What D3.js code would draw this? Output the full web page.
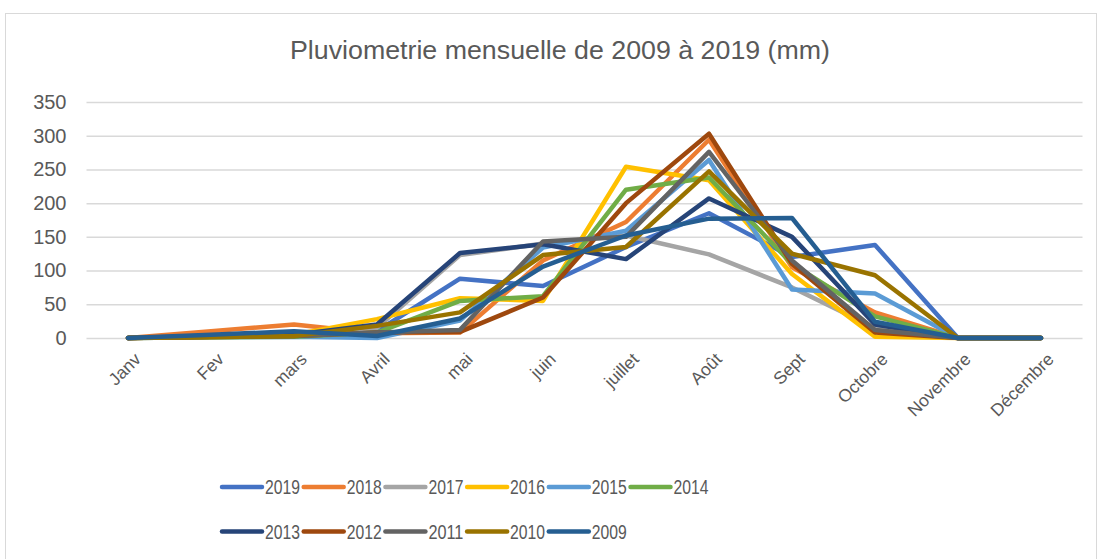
<!DOCTYPE html>
<html>
  <head>
    <meta charset="utf-8" />
    <title>Pluviometrie mensuelle</title>
    <script src="https://d3js.org/d3.v7.min.js"></script>
    <style>
      html, body {
        margin: 0;
        padding: 0;
        background-color: white;
      }
      svg text {
        font-family: "Liberation Sans", Arial, sans-serif;
        fill: #595959;
      }
    </style>
  </head>
  <body>
    <script>
      var w = 1101;
      var h = 559;

      // data (mm)
      var months = ["Janv", "Fev", "mars", "Avril", "mai", "juin", "juillet", "Août", "Sept", "Octobre", "Novembre", "Décembre"];
      var years = ["2019", "2018", "2017", "2016", "2015", "2014", "2013", "2012", "2011", "2010", "2009"];
      var colors = ["#4472C4", "#ED7D31", "#A5A5A5", "#FFC000", "#5B9BD5", "#70AD47", "#264478", "#9E480E", "#636363", "#997300", "#255E91"];

      var v2019 = [0, 3, 5, 10, 88, 77, 135, 185, 120, 138, 0, 0];
      var v2018 = [0, 10, 20, 7, 8, 115, 172, 294, 105, 38, 0, 0];
      var v2017 = [0, 2, 3, 15, 123, 140, 152, 124, 75, 15, 0, 0];
      var v2016 = [0, 2, 5, 28, 59, 55, 254, 234, 95, 2, 0, 0];
      var v2015 = [0, 1, 2, 0, 26, 134, 159, 264, 72, 66, 0, 0];
      var v2014 = [0, 1, 2, 8, 55, 62, 220, 238, 110, 32, 0, 0];
      var v2013 = [0, 3, 5, 20, 126, 139, 117, 207, 150, 20, 0, 0];
      var v2012 = [0, 2, 3, 8, 9, 60, 200, 303, 110, 8, 0, 0];
      var v2011 = [0, 2, 3, 8, 12, 143, 150, 276, 115, 12, 0, 0];
      var v2010 = [0, 1, 3, 18, 38, 123, 135, 247, 125, 93, 0, 0];
      var v2009 = [0, 5, 10, 3, 29, 106, 152, 177, 178, 24, 0, 0];

      var series = [v2019, v2018, v2017, v2016, v2015, v2014, v2013, v2012, v2011, v2010, v2009];
      var yTicks = [0, 50, 100, 150, 200, 250, 300, 350];

      var plotLeft = 86.5;
      var plotRight = 1082.5;
      var plotTop = 102;
      var plotBottom = 338;

      var svg = d3.select("body")
        .append("svg")
        .attr("width", w)
        .attr("height", h);

      // chart frame
      svg.append("rect")
        .attr("x", 5.5)
        .attr("y", 13.5)
        .attr("width", 1091)
        .attr("height", 560)
        .attr("fill", "white")
        .attr("stroke", "#d9d9d9")
        .attr("stroke-width", 1);

      svg.append("text")
        .attr("x", 560)
        .attr("y", 59)
        .attr("text-anchor", "middle")
        .attr("font-size", "25px")
        .attr("textLength", 540)
        .attr("lengthAdjust", "spacingAndGlyphs")
        .text("Pluviometrie mensuelle de 2009 à 2019 (mm)");

      var x = d3.scalePoint()
        .domain(months)
        .range([plotLeft, plotRight])
        .padding(0.5);

      var y = d3.scaleLinear()
        .domain([0, 350])
        .range([plotBottom, plotTop]);

      // gridlines
      svg.append("g")
        .attr("class", "grid")
        .attr("transform", "translate(" + plotLeft + ",0)")
        .call(d3.axisLeft(y).tickValues(yTicks).tickSize(-(plotRight - plotLeft)).tickFormat(""))
        .call(function(g) { g.select(".domain").remove(); })
        .selectAll("line")
        .attr("stroke", "#d9d9d9")
        .attr("stroke-width", 1.5);

      // y labels
      var yAxis = svg.append("g")
        .attr("transform", "translate(" + (plotLeft - 20) + ",0)")
        .call(d3.axisLeft(y).tickValues(yTicks).tickSize(0).tickPadding(0));
      yAxis.select(".domain").remove();
      yAxis.selectAll("text")
        .attr("font-size", "20px")
        .attr("fill", "#595959")
        .attr("font-family", "Liberation Sans, Arial, sans-serif");

      // x labels, rotated
      var xAxis = svg.append("g")
        .attr("transform", "translate(0," + plotBottom + ")")
        .call(d3.axisBottom(x).tickSize(0).tickPadding(0));
      xAxis.select(".domain").remove();
      xAxis.selectAll("text")
        .attr("font-size", "17.5px")
        .attr("fill", "#595959")
        .attr("font-family", "Liberation Sans, Arial, sans-serif")
        .attr("text-anchor", "end")
        .attr("dy", "0.35em")
        .attr("transform", "translate(9,18) rotate(-45)");

      var line = d3.line()
        .x(function(d, i) { return x(months[i]); })
        .y(function(d) { return y(d); });

      svg.selectAll(".serie")
        .data(series)
        .enter()
        .append("path")
        .attr("class", "serie")
        .attr("d", line)
        .attr("fill", "none")
        .attr("stroke", function(d, i) { return colors[i]; })
        .attr("stroke-width", 4.5)
        .attr("stroke-linejoin", "round")
        .attr("stroke-linecap", "round");

      // legend, 6 per row
      var legend = svg.selectAll(".legend")
        .data(years)
        .enter()
        .append("g")
        .attr("class", "legend")
        .attr("transform", function(d, i) {
          return "translate(" + (222 + (i % 6) * 81.7) + "," + (487 + Math.floor(i / 6) * 44.5) + ")";
        });

      legend.append("line")
        .attr("x1", 0)
        .attr("x2", 40)
        .attr("stroke", function(d, i) { return colors[i]; })
        .attr("stroke-width", 4.5)
        .attr("stroke-linecap", "round");

      legend.append("text")
        .attr("x", 43)
        .attr("dy", "0.36em")
        .attr("font-size", "20px")
        .attr("textLength", 35)
        .attr("lengthAdjust", "spacingAndGlyphs")
        .text(function(d) { return d; });
    </script>
  </body>
</html>
